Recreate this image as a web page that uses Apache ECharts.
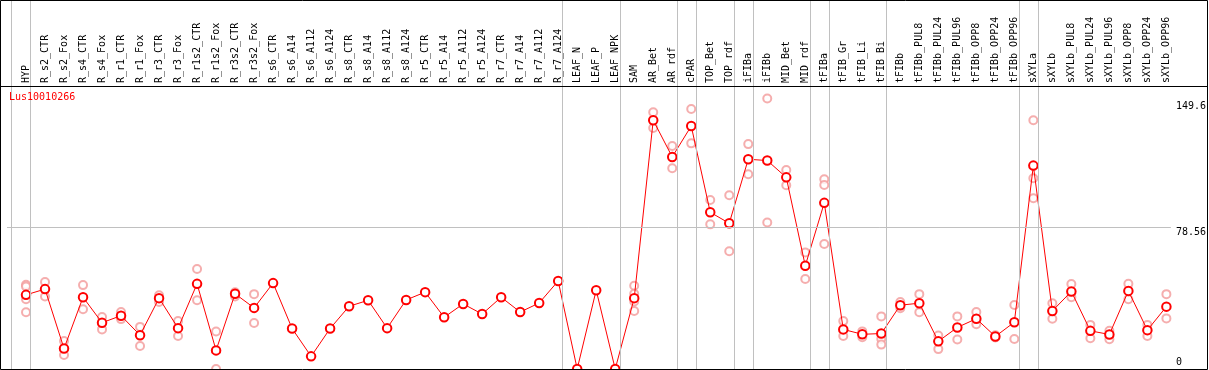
<!DOCTYPE html>
<html>
<head>
<meta charset="utf-8">
<script src="https://cdn.jsdelivr.net/npm/echarts@6/dist/echarts.min.js"></script>
<style>html,body{margin:0;padding:0;background:#fff;}#c{width:1209px;height:370px;}</style>
</head>
<body>
<div id="c"></div>
<script>
const title = 'Lus10010266';
const categories = ['HYP','R_s2_CTR','R_s2_Fox','R_s4_CTR','R_s4_Fox','R_r1_CTR','R_r1_Fox','R_r3_CTR','R_r3_Fox','R_r1s2_CTR','R_r1s2_Fox','R_r3s2_CTR','R_r3s2_Fox','R_s6_CTR','R_s6_A14','R_s6_A112','R_s6_A124','R_s8_CTR','R_s8_A14','R_s8_A112','R_s8_A124','R_r5_CTR','R_r5_A14','R_r5_A112','R_r5_A124','R_r7_CTR','R_r7_A14','R_r7_A112','R_r7_A124','LEAF_N','LEAF_P','LEAF_NPK','SAM','AR_Bet','AR_rdf','cPAR','TOP_Bet','TOP_rdf','iFIBa','iFIBb','MID_Bet','MID_rdf','tFIBa','tFIB_Gr','tFIB_Li','tFIB_Bi','tFIBb','tFIBb_PUL8','tFIBb_PUL24','tFIBb_PUL96','tFIBb_OPP8','tFIBb_OPP24','tFIBb_OPP96','sXYLa','sXYLb','sXYLb_PUL8','sXYLb_PUL24','sXYLb_PUL96','sXYLb_OPP8','sXYLb_OPP24','sXYLb_OPP96'];
const means = [41.0,44.2,11.3,39.7,25.6,29.5,18.7,39.2,22.6,47.1,10.3,41.6,33.8,47.5,22.4,7.0,22.4,34.7,38.0,22.6,38.2,42.5,28.6,36.0,30.4,39.7,31.5,36.5,48.7,0,43.6,0,39.2,137.6,117.3,134.4,86.7,80.6,116.0,115.3,106.0,57.1,91.9,21.9,19.2,19.6,35.3,36.4,15.3,23.0,27.8,18.0,25.9,112.5,32.1,42.9,21.1,19.1,43.2,21.5,34.5];
const replicates = [[46.6,45.6,38.6,31.4],[48.1,40.1],[15.5,7.7],[46.4,33.0],[28.7,21.9],[31.5,27.6],[23.3,12.7],[40.8,37.1],[26.5,18.3],[55.3,38.0],[20.7,0],[42.5,40.1],[41.4,25.4],[],[],[],[],[],[],[],[],[],[],[],[],[],[],[],[],[],[],[],[46.0,41.6,37.3,32.1],[142.0,133.3],[123.3,111.0],[143.8,124.8],[93.5,80.0],[96.1,65.1],[124.4,107.7],[149.6,81.0],[110.1,101.6],[64.5,49.8],[104.9,101.8,69.1],[26.5,18.3],[20.8,17.6],[29.1,16.6,13.5],[37.1,33.6],[41.4,31.4],[18.5,11.0],[29.1,16.3],[31.5,24.8],[18.6,17.4],[35.4,16.6],[137.6,105.5,94.4],[36.4,27.8],[47.0,39.7],[24.4,17.0],[21.1,16.5],[47.1,38.6],[24.4,18.3],[41.4,28.0]];
const yTickValues = [0, 78.56, 149.6];
const groupEnds = [-1,0,28,31,34,35,37,38,41,42,45,52,53,60];

const FONT = 'DejaVu Sans Mono';
const sepOffset = 0.237;
const meanData = means.map((v,i)=>[i,v]);
const repData = [];
replicates.forEach((arr,i)=>arr.forEach(v=>repData.push([i,v])));

const chart = echarts.init(document.getElementById('c'), null, {renderer:'canvas'});
chart.setOption({
  animation:false,
  backgroundColor:'#fff',
  title:{text:title,left:9,top:92,padding:0,textStyle:{color:'#ff0000',fontFamily:FONT,fontSize:10,fontWeight:'normal'}},
  grid:{left:7,top:0,width:1164.1,height:369,containLabel:false},
  xAxis:{type:'value',min:-1,max:60.237,interval:1,position:'top',offset:-86,
    axisLine:{show:false},axisTick:{show:false},splitLine:{show:false},
    axisLabel:{rotate:90,margin:3,fontFamily:FONT,fontSize:10,color:'#000',showMinLabel:true,showMaxLabel:true,
      formatter:function(v){const i=Math.round(v);return (Math.abs(v-i)<1e-6&&i>=0&&i<categories.length)?categories[i]:'';}}},
  yAxis:{type:'value',min:0,max:204.1,position:'right',
    axisLine:{show:false},axisTick:{show:false},splitLine:{show:false},
    axisLabel:{customValues:yTickValues,margin:5,align:'left',fontFamily:FONT,fontSize:10,color:'#000',
      formatter:function(v){ if(v===0) return '{b|0}'; if(v>100) return '{t|'+v+'}'; return '{m|'+v+'}'; },
      rich:{t:{padding:[16,0,0,0],fontFamily:FONT,fontSize:10},m:{padding:[10,0,0,0],fontFamily:FONT,fontSize:10},b:{padding:[0,0,14,0],fontFamily:FONT,fontSize:10}}}},
  series:[
    {type:'line',data:[],silent:true,
      markLine:{silent:true,symbol:'none',label:{show:false},lineStyle:{color:'#c0c0c0',width:1,type:'solid'},
        data:groupEnds.map(g=>({xAxis:g+sepOffset})).concat([{yAxis:yTickValues[1]}])}},
    {type:'scatter',data:repData,symbol:'emptyCircle',symbolSize:8,itemStyle:{color:'#f29a9a',borderWidth:1.1},z:2},
    {type:'line',data:meanData,symbol:'emptyCircle',symbolSize:8.5,lineStyle:{color:'#ff0000',width:1},
      itemStyle:{color:'#ff0000',borderWidth:1.3},z:3}
  ],
  graphic:[
    {type:'line',shape:{x1:0,y1:86.5,x2:1208,y2:86.5},style:{stroke:'#000',lineWidth:1},z:100},
    {type:'rect',shape:{x:0.5,y:0.5,width:1207,height:369},style:{fill:null,stroke:'#000',lineWidth:1},z:100}
  ]
});
</script>
</body>
</html>
